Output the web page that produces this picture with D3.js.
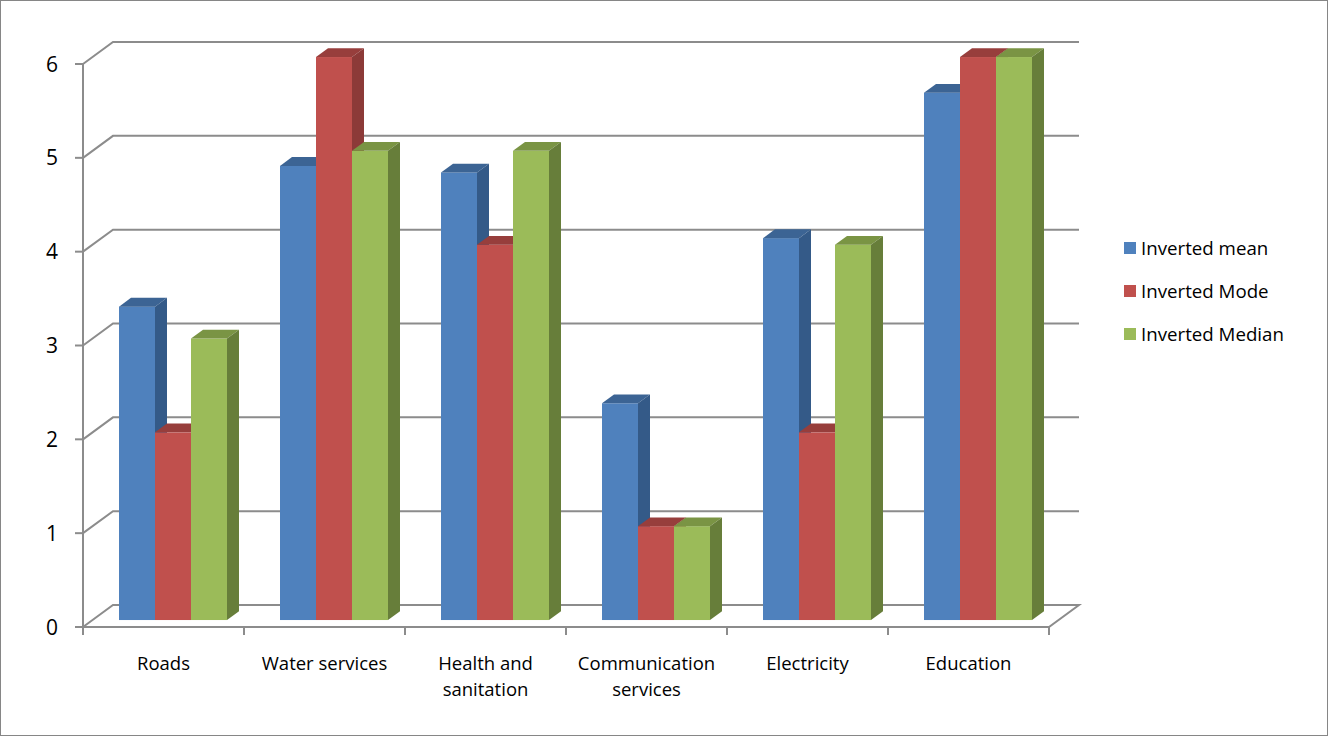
<!DOCTYPE html>
<html>
<head>
<meta charset="utf-8">
<script src="https://cdn.jsdelivr.net/npm/d3@7"></script>
<style>
  body { margin: 0; background: #fff; }
  svg { display: block; font-family: "Open Sans", "Liberation Sans", sans-serif; }
</style>
</head>
<body>
<svg id="chart" width="1328" height="736"></svg>
<script>
'use strict';

var categories = [["Roads"], ["Water services"], ["Health and", "sanitation"],
                  ["Communication", "services"], ["Electricity"], ["Education"]];
var seriesNames = ["Inverted mean", "Inverted Mode", "Inverted Median"];
var invertedMean   = [3.34, 4.84, 4.77, 2.31, 4.07, 5.62];
var invertedMode   = [2, 6, 4, 1, 2, 6];
var invertedMedian = [3, 5, 5, 1, 4, 6];
var yTicks = [0, 1, 2, 3, 4, 5, 6];

var seriesValues = [invertedMean, invertedMode, invertedMedian];
var colors = [
    {front: "#4f81bd", top: "#3c6494", side: "#345a88"},
    {front: "#c0504d", top: "#973e3c", side: "#8c3a38"},
    {front: "#9bbb59", top: "#7a9444", side: "#677e3a"}
];

var svg = d3.select("#chart");

// chart border
svg.append("rect")
    .attr("x", 0.5).attr("y", 0.5).attr("width", 1327).attr("height", 735)
    .style("fill", "none").style("stroke", "#868686").style("stroke-width", 1);

var left = 83, right = 1049,
    depthX = 30, depthY = -22;

var xScale = d3.scaleBand().domain(d3.range(categories.length)).range([left, right]),
    yScale = d3.scaleLinear().domain([0, 6]).range([627, 64]),
    sScale = d3.scaleBand().domain(d3.range(seriesNames.length))
        .range([26.5, xScale.bandwidth() - 26.5]);

// depth d in [0,1]: 0 = front plane, 1 = back wall
function px(x, d) { return x + depthX * d; }
function py(y, d) { return y + depthY * d; }

var grid = svg.append("g")
    .style("stroke", "#8c8c8c").style("stroke-width", 2).style("fill", "none");

// back wall gridlines and side-wall diagonals
yTicks.forEach(function(t){
    var y = yScale(t);
    grid.append("path")
        .attr("d", "M" + left + "," + y + "L" + px(left, 1) + "," + py(y, 1) +
                   "L" + px(right, 1) + "," + py(y, 1));
});

// vertical axis + ticks
grid.append("line")
    .attr("x1", left).attr("x2", left)
    .attr("y1", yScale(6)).attr("y2", yScale(0));
yTicks.forEach(function(t){
    grid.append("line")
        .attr("x1", left - 8).attr("x2", left)
        .attr("y1", yScale(t)).attr("y2", yScale(t));
});

// floor front edge and right diagonal
grid.append("path")
    .attr("d", "M" + left + "," + yScale(0) + "L" + right + "," + yScale(0) +
               "L" + px(right, 1) + "," + py(yScale(0), 1) +
               "L" + (px(right, 1) - 2) + "," + py(yScale(0), 1));

// category ticks
d3.range(categories.length + 1).forEach(function(i){
    var x = left + xScale.step() * i;
    grid.append("line")
        .attr("x1", x).attr("x2", x)
        .attr("y1", yScale(0)).attr("y2", yScale(0) + 8);
});

// y labels
svg.append("g").selectAll("text").data(yTicks).enter().append("text")
    .attr("x", 58).attr("y", function(d){ return yScale(d); })
    .attr("dy", "0.36em")
    .attr("text-anchor", "end")
    .style("font-size", "21px").style("fill", "#000")
    .text(function(d){ return d; });

// bars
var bf = 9.5 / 30, bb = 21.5 / 30;   // bar front / back depth
var bars = svg.append("g");
categories.forEach(function(c, i){
    seriesValues.forEach(function(vals, s){
        var x0 = xScale(i) + sScale(s), x1 = x0 + sScale.bandwidth(),
            yTop = yScale(vals[i]), yBot = yScale(0),
            col = colors[s];
        var fx0 = px(x0, bf), fx1 = px(x1, bf),
            bx1 = px(x1, bb), bx0 = px(x0, bb);
        var fyT = py(yTop, bf), fyB = py(yBot, bf),
            byT = py(yTop, bb), byB = py(yBot, bb);
        bars.append("rect")
            .attr("x", fx0).attr("y", fyT)
            .attr("width", fx1 - fx0).attr("height", fyB - fyT)
            .style("fill", col.front);
        bars.append("path")
            .attr("d", "M" + fx0 + "," + fyT + "L" + fx1 + "," + fyT +
                       "L" + bx1 + "," + byT + "L" + bx0 + "," + byT + "Z")
            .style("fill", col.top);
        bars.append("path")
            .attr("d", "M" + fx1 + "," + fyT + "L" + bx1 + "," + byT +
                       "L" + bx1 + "," + byB + "L" + fx1 + "," + fyB + "Z")
            .style("fill", col.side);
    });
});

// category labels
var catLabels = svg.append("g").selectAll("text").data(categories).enter().append("text")
    .attr("x", function(d, i){ return xScale(i) + xScale.bandwidth() / 2; })
    .attr("y", 670)
    .attr("text-anchor", "middle")
    .style("font-size", "18.5px").style("fill", "#000");
catLabels.selectAll("tspan").data(function(d){ return d; }).enter().append("tspan")
    .attr("x", function(){ return this.parentNode.getAttribute("x"); })
    .attr("dy", function(d, j){ return j === 0 ? 0 : 26; })
    .text(function(d){ return d; });

// legend
var legend = svg.append("g").selectAll("g").data(seriesNames).enter().append("g")
    .attr("transform", function(d, i){ return "translate(1124," + (248 + i * 43) + ")"; });
legend.append("rect")
    .attr("x", 0).attr("y", -6).attr("width", 12).attr("height", 12)
    .style("fill", function(d, i){ return colors[i].front; });
legend.append("text")
    .attr("x", 17).attr("dy", "0.35em")
    .style("font-size", "18.7px").style("fill", "#000")
    .text(function(d){ return d; });
</script>
</body>
</html>
